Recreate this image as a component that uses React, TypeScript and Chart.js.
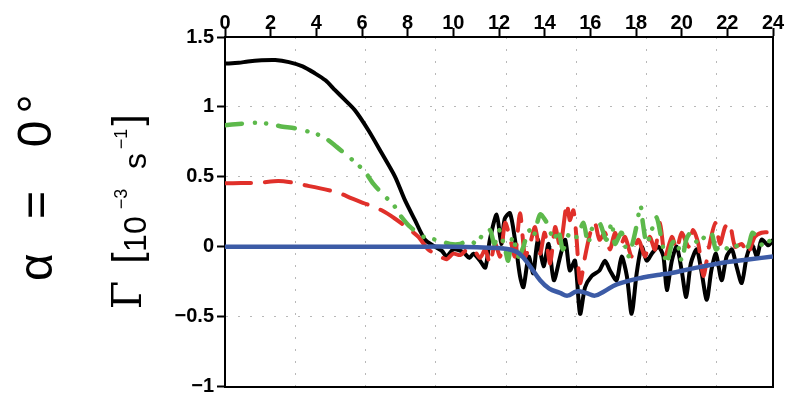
import React, { useEffect, useRef } from "react";
import { Chart, registerables } from "chart.js";

Chart.register(...registerables);

// ---- data ----
const xTickValues = [0, 2, 4, 6, 8, 10, 12, 14, 16, 18, 20, 22, 24];
const yTickValues = [-1, -0.5, 0, 0.5, 1, 1.5];

const blackT = [0, 0.6, 1.0, 1.6, 2.2, 2.8, 3.4, 3.94, 4.4, 4.82, 5.25, 5.69, 6.28, 6.86, 7.45, 7.88, 8.32, 8.76, 9.2, 9.5, 9.71, 10.0, 10.44, 10.7, 10.88, 11.17, 11.4, 11.6, 11.9, 12.1, 12.25, 12.48, 12.7, 12.92, 13.07, 13.3, 13.5, 13.7, 13.95, 14.17, 14.4, 14.68, 14.9, 15.1, 15.33, 15.55, 15.77, 16.06, 16.4, 16.64, 16.86, 17.15, 17.37, 17.6, 17.81, 18.03, 18.25, 18.47, 18.69, 18.98, 19.2, 19.35, 19.57, 19.78, 20.0, 20.2, 20.4, 20.66, 20.88, 21.1, 21.3, 21.5, 21.75, 21.97, 22.2, 22.4, 22.63, 22.85, 23.07, 23.3, 23.5, 23.8, 24.0];
const blackV = [1.31, 1.315, 1.325, 1.333, 1.335, 1.32, 1.29, 1.24, 1.19, 1.12, 1.05, 0.976, 0.833, 0.67, 0.5, 0.333, 0.19, 0.05, 0.0, -0.03, -0.07, -0.02, -0.04, -0.08, -0.05, -0.1, -0.15, 0.05, 0.23, 0.02, 0.2, 0.24, 0.05, -0.21, -0.29, -0.07, -0.19, 0.05, -0.14, 0.02, -0.24, -0.07, 0.05, -0.17, -0.1, -0.48, -0.29, -0.21, -0.17, -0.1, -0.17, -0.24, -0.07, -0.21, -0.48, -0.19, 0.0, -0.1, -0.05, 0.0, -0.07, -0.31, -0.1, 0.0, -0.17, -0.36, -0.12, -0.02, -0.19, -0.38, -0.17, -0.05, -0.24, -0.07, -0.02, -0.14, -0.26, -0.07, 0.02, -0.07, 0.05, 0.01, 0.05];

const redT = [0, 0.7, 1.46, 2.33, 2.9, 3.5, 4.38, 4.97, 5.55, 6.28, 6.86, 7.45, 8.03, 8.47, 8.9, 9.42, 9.71, 10.0, 10.3, 10.6, 10.88, 11.17, 11.4, 11.6, 11.83, 12.05, 12.27, 12.5, 12.7, 12.92, 13.14, 13.36, 13.58, 13.8, 14.0, 14.24, 14.46, 14.68, 14.97, 15.1, 15.26, 15.4, 15.55, 15.77, 16.0, 16.2, 16.4, 16.64, 16.86, 17.08, 17.3, 17.52, 17.81, 18.1, 18.4, 18.6, 18.83, 19.05, 19.27, 19.57, 19.78, 20.0, 20.3, 20.5, 20.73, 20.95, 21.2, 21.47, 21.68, 21.9, 22.1, 22.34, 22.63, 22.9, 23.2, 23.5, 23.8, 24.0];
const redV = [0.453, 0.455, 0.457, 0.47, 0.46, 0.44, 0.41, 0.386, 0.345, 0.3, 0.26, 0.2, 0.13, 0.07, -0.02, -0.07, -0.09, -0.05, -0.06, -0.02, -0.02, -0.08, -0.02, -0.12, 0.02, -0.07, 0.17, 0.05, -0.07, 0.24, -0.07, 0.02, 0.14, -0.05, 0.1, -0.12, 0.14, 0.0, 0.31, 0.19, 0.26, 0.05, -0.26, -0.07, 0.1, 0.17, 0.05, 0.1, -0.02, 0.1, 0.0, 0.07, -0.07, 0.05, -0.07, 0.07, -0.02, 0.17, -0.07, 0.07, -0.02, 0.1, 0.0, 0.12, 0.02, -0.21, 0.0, 0.17, 0.02, 0.14, 0.17, 0.0, 0.02, -0.05, 0.07, 0.1, 0.1, 0.05];

const greenT = [0, 0.6, 1.31, 1.9, 2.41, 3.14, 3.72, 4.31, 4.89, 5.33, 5.76, 6.13, 6.5, 6.94, 7.38, 7.67, 8.1, 8.7, 9.3, 9.85, 10.3, 10.7, 11.0, 11.3, 11.6, 11.8, 12.0, 12.27, 12.4, 12.6, 12.85, 13.07, 13.3, 13.5, 13.8, 14.1, 14.4, 14.6, 14.8, 15.1, 15.4, 15.7, 15.9, 16.1, 16.4, 16.7, 16.94, 17.08, 17.37, 17.66, 17.96, 18.2, 18.3, 18.47, 18.69, 18.9, 19.12, 19.35, 19.57, 19.78, 20.0, 20.2, 20.4, 20.73, 21.0, 21.3, 21.5, 21.75, 22.05, 22.34, 22.63, 22.9, 23.1, 23.35, 23.6, 23.9, 24.0];
const greenV = [0.869, 0.878, 0.886, 0.88, 0.862, 0.845, 0.82, 0.786, 0.714, 0.655, 0.595, 0.536, 0.45, 0.37, 0.3, 0.226, 0.143, 0.07, 0.048, 0.02, 0.02, 0.05, 0.02, 0.09, 0.12, 0.02, 0.12, -0.02, -0.1, 0.07, -0.07, 0.0, 0.12, 0.07, 0.23, 0.17, 0.05, 0.12, -0.02, 0.1, 0.07, 0.17, 0.02, 0.14, 0.17, 0.05, 0.17, 0.02, 0.1, -0.07, 0.1, 0.29, 0.17, 0.02, 0.12, 0.21, 0.05, -0.12, 0.02, 0.05, -0.1, 0.05, 0.1, 0.02, 0.07, 0.1, -0.02, 0.02, -0.02, 0.0, 0.02, 0.0, 0.1, 0.05, 0.0, 0.05, 0.05];

const blueT = [0, 4, 8, 10, 12, 12.48, 12.9, 13.36, 13.8, 14.2, 14.67, 15.0, 15.4, 15.8, 16.2, 16.6, 17.16, 18.3, 19.05, 19.5, 20.5, 22.0, 23.0, 24.0];
const blueV = [0, 0, 0, 0, -0.01, -0.02, -0.05, -0.14, -0.24, -0.3, -0.33, -0.35, -0.32, -0.33, -0.35, -0.32, -0.27, -0.22, -0.2, -0.19, -0.155, -0.11, -0.09, -0.07];

// positions of the dotted vertical guide lines (x units)
const gridXs = [3.07, 6.16, 9.24, 12.31, 15.4, 18.44, 21.51];

const zip = (t: number[], v: number[]) =>
  t.slice(0, Math.min(t.length, v.length)).map((x, i) => ({ x, y: v[i] }));

const TICK_FONT = { family: "'Liberation Sans', Arial, sans-serif", size: 20, weight: "bold" as const };
const GRID_DASH = [2, 10];

const sideTitles = {
  id: "sideTitles",
  afterDraw(chart: any) {
    const ctx: CanvasRenderingContext2D = chart.ctx;
    const put = (text: string, font: string, baseX: number, cy: number) => {
      ctx.save();
      ctx.translate(baseX, cy);
      ctx.rotate(-Math.PI / 2);
      ctx.font = font;
      ctx.fillStyle = "#000";
      ctx.textAlign = "center";
      ctx.textBaseline = "alphabetic";
      ctx.fillText(text, 0, 0);
      ctx.restore();
    };
    const big = "48px 'Liberation Sans', Arial, sans-serif";
    put("α", big, 52, 267);
    put("=", big, 52, 205);
    put("0", big, 51, 134);
    put("°", big, 51, 104);

    const mid = "32px 'Liberation Sans', Arial, sans-serif";
    const br = "40px 'Liberation Sans', Arial, sans-serif";
    const sup = "18px 'Liberation Sans', Arial, sans-serif";
    put("Γ", "41px 'DejaVu Serif', serif", 141, 295);
    put("[", br, 141, 258);
    put("1", mid, 146, 243);
    put("0", mid, 146, 225);
    put("−3", sup, 127, 199);
    put("s", mid, 146, 161);
    put("−1", sup, 127, 139);
    put("]", br, 141, 120);
  },
};

export default function App() {
  const ref = useRef<HTMLCanvasElement>(null);
  useEffect(() => {
    if (!ref.current) return;
    const chart = new Chart(ref.current, {
      type: "line",
      data: {
        datasets: [
          {
            label: "black",
            data: zip(blackT, blackV),
            borderColor: "#000000",
            borderWidth: 4,
            order: 4,
          },
          {
            label: "red",
            data: zip(redT, redV),
            borderColor: "#e0302a",
            borderWidth: 4,
            borderDash: [26, 14],
            borderCapStyle: "round",
            order: 3,
          },
          {
            label: "green",
            data: zip(greenT, greenV),
            borderColor: "#5db94b",
            borderWidth: 4.5,
            borderDash: [17, 13, 0.1, 11, 0.1, 12],
            borderCapStyle: "round",
            order: 2,
          },
          {
            label: "blue",
            data: zip(blueT, blueV),
            borderColor: "#3c5ba6",
            borderWidth: 4.5,
            tension: 0.4,
            order: 1,
          },
        ] as any,
      },
      options: {
        animation: false,
        responsive: true,
        maintainAspectRatio: false,
        parsing: false as any,
        layout: { padding: 0 },
        elements: {
          point: { radius: 0 },
          line: { tension: 0.25, borderJoinStyle: "round", fill: false },
        },
        plugins: { legend: { display: false }, tooltip: { enabled: false } },
        scales: {
          x: {
            type: "linear",
            position: "top",
            min: 0,
            max: 24,
            afterBuildTicks: (s: any) => {
              s.ticks = xTickValues.map((v) => ({ value: v }));
            },
            afterFit: (s: any) => {
              s.height = 37;
              s.paddingLeft = 0;
              s.paddingRight = 0;
            },
            ticks: { color: "#000", font: TICK_FONT, padding: -7, maxRotation: 0, autoSkip: false },
            grid: {
              drawOnChartArea: false,
              drawTicks: true,
              tickLength: 9,
              tickWidth: 2,
              tickColor: "#000",
            },
            border: { color: "#000", width: 2 },
          },
          x2: {
            type: "linear",
            position: "bottom",
            min: 0,
            max: 24,
            afterBuildTicks: (s: any) => {
              s.ticks = gridXs.map((v) => ({ value: v }));
            },
            afterFit: (s: any) => {
              s.height = 9.5;
            },
            ticks: { display: false },
            grid: {
              drawTicks: false,
              color: "#b8b8b8",
              lineWidth: 1,
            },
            border: { color: "#000", width: 2, dash: GRID_DASH },
          },
          y: {
            type: "linear",
            position: "left",
            min: -1,
            max: 1.5,
            afterBuildTicks: (s: any) => {
              s.ticks = yTickValues.map((v) => ({ value: v }));
            },
            afterFit: (s: any) => {
              s.width = 225;
              s.paddingTop = 0;
              s.paddingBottom = 0;
            },
            ticks: {
              color: "#000",
              font: TICK_FONT,
              padding: 3,
              callback: (v: any) => String(v).replace("-", "−"),
            },
            grid: {
              color: "#b8b8b8",
              lineWidth: 1,
              tickLength: 8,
              tickWidth: 2,
              tickColor: "#000",
              tickBorderDash: [],
            } as any,
            border: { color: "#000", width: 2, dash: GRID_DASH },
          },
          y2: {
            type: "linear",
            position: "right",
            min: -1,
            max: 1.5,
            afterFit: (s: any) => {
              s.width = 14;
              s.paddingTop = 0;
              s.paddingBottom = 0;
            },
            ticks: { display: false },
            grid: { display: false, drawTicks: false },
            border: { color: "#000", width: 2 },
          },
        },
      } as any,
      plugins: [sideTitles],
    });
    return () => chart.destroy();
  }, []);

  return (
    <div style={{ position: "fixed", left: 0, top: 0, width: 787, height: 396, background: "#fff" }}>
      <canvas ref={ref} />
    </div>
  );
}
